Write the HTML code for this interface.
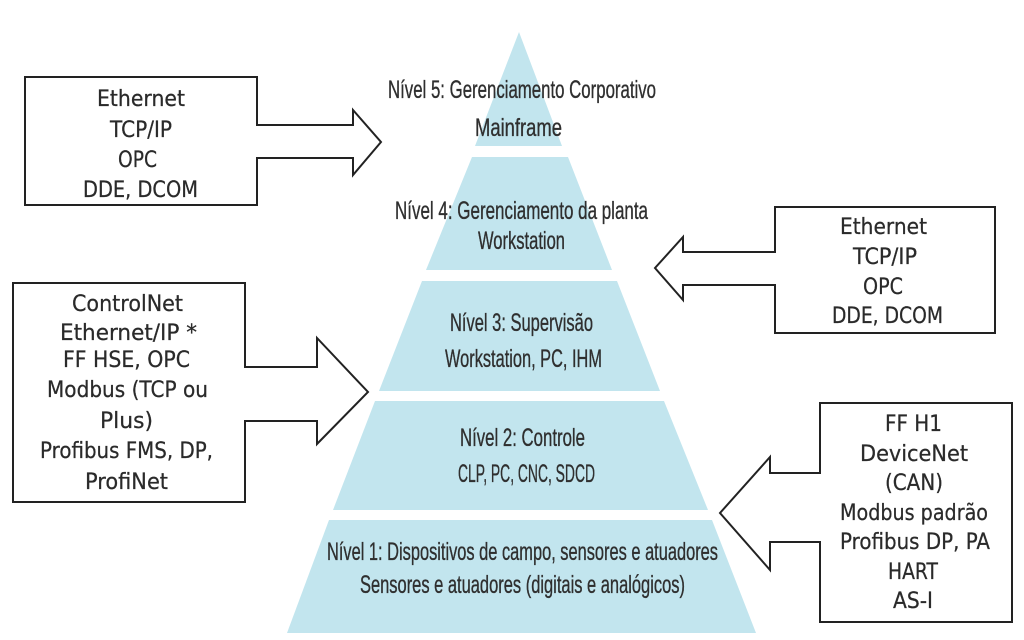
<!DOCTYPE html>
<html>
<head>
<meta charset="utf-8">
<style>
html,body{margin:0;padding:0;background:#fff;}
svg{display:block;}
.p{font-family:"Liberation Sans",sans-serif;font-size:25px;fill:#2f2f2f;stroke:#2f2f2f;stroke-width:0.35px;}
.b{font-family:"DejaVu Sans","Liberation Sans",sans-serif;font-size:22px;fill:#2a2a2a;stroke:#2a2a2a;stroke-width:0.25px;}
</style>
</head>
<body>
<svg width="1024" height="640" viewBox="0 0 1024 640" xmlns="http://www.w3.org/2000/svg">
<rect width="1024" height="640" fill="#fff"/>
<g fill="#c2e5ee">
  <polygon points="519,32 562,146 475,146"/>
  <polygon points="472,157 568,157 612,270 426,270"/>
  <polygon points="422,281 617,281 660,391 379,391"/>
  <polygon points="375,401 664,401 708,510 333,510"/>
  <polygon points="329,520 712,520 756,633 287,633"/>
</g>
<text class="p" x="388" y="98" textLength="268" lengthAdjust="spacingAndGlyphs">Nível 5: Gerenciamento Corporativo</text>
<text class="p" x="475" y="136" textLength="87" lengthAdjust="spacingAndGlyphs">Mainframe</text>
<text class="p" x="395" y="219" textLength="253" lengthAdjust="spacingAndGlyphs">Nível 4: Gerenciamento da planta</text>
<text class="p" x="478" y="249" textLength="87" lengthAdjust="spacingAndGlyphs">Workstation</text>
<text class="p" x="450" y="331" textLength="143" lengthAdjust="spacingAndGlyphs">Nível 3: Supervisão</text>
<text class="p" x="445" y="367" textLength="157" lengthAdjust="spacingAndGlyphs">Workstation, PC, IHM</text>
<text class="p" x="460" y="446" textLength="125" lengthAdjust="spacingAndGlyphs">Nível 2: Controle</text>
<text class="p" x="458" y="482" textLength="137" lengthAdjust="spacingAndGlyphs">CLP, PC, CNC, SDCD</text>
<text class="p" x="327" y="560" textLength="391" lengthAdjust="spacingAndGlyphs">Nível 1: Dispositivos de campo, sensores e atuadores</text>
<text class="p" x="360" y="593" textLength="325" lengthAdjust="spacingAndGlyphs">Sensores e atuadores (digitais e analógicos)</text>

<g fill="#fff" stroke="#222" stroke-width="2" stroke-linejoin="miter">
  <path d="M25,77 H257 V125 H353 V110 L381,142 L353,175 V158 H257 V205 H25 Z"/>
  <path d="M775,207 H995 V333 H775 V285 H683 V300 L655,268 L683,237 V252 H775 Z"/>
  <path d="M13,283 H245 V367 H317 V338 L368,392 L317,444 V421 H245 V502 H13 Z"/>
  <path d="M820,403 H1012 V622 H820 V542 H770 V570 L720,513 L770,457 V473 H820 Z"/>
</g>

<text class="b" x="97" y="106" textLength="88" lengthAdjust="spacingAndGlyphs">Ethernet</text>
<text class="b" x="110" y="137" textLength="62" lengthAdjust="spacingAndGlyphs">TCP/IP</text>
<text class="b" x="118" y="167" textLength="39" lengthAdjust="spacingAndGlyphs">OPC</text>
<text class="b" x="83" y="197" textLength="115" lengthAdjust="spacingAndGlyphs">DDE, DCOM</text>

<text class="b" x="840" y="234" textLength="87" lengthAdjust="spacingAndGlyphs">Ethernet</text>
<text class="b" x="853" y="264" textLength="64" lengthAdjust="spacingAndGlyphs">TCP/IP</text>
<text class="b" x="863" y="294" textLength="40" lengthAdjust="spacingAndGlyphs">OPC</text>
<text class="b" x="832" y="323" textLength="111" lengthAdjust="spacingAndGlyphs">DDE, DCOM</text>

<text class="b" x="72" y="311" textLength="111" lengthAdjust="spacingAndGlyphs">ControlNet</text>
<text class="b" x="60" y="340" textLength="137" lengthAdjust="spacingAndGlyphs">Ethernet/IP *</text>
<text class="b" x="63" y="367" textLength="127" lengthAdjust="spacingAndGlyphs">FF HSE, OPC</text>
<text class="b" x="47" y="397" textLength="161" lengthAdjust="spacingAndGlyphs">Modbus (TCP ou</text>
<text class="b" x="100" y="428" textLength="53" lengthAdjust="spacingAndGlyphs">Plus)</text>
<text class="b" x="40" y="458" textLength="173" lengthAdjust="spacingAndGlyphs">Profibus FMS, DP,</text>
<text class="b" x="85" y="489" textLength="83" lengthAdjust="spacingAndGlyphs">ProfiNet</text>

<text class="b" x="885" y="431" textLength="57" lengthAdjust="spacingAndGlyphs">FF H1</text>
<text class="b" x="860" y="461" textLength="108" lengthAdjust="spacingAndGlyphs">DeviceNet</text>
<text class="b" x="885" y="490" textLength="58" lengthAdjust="spacingAndGlyphs">(CAN)</text>
<text class="b" x="840" y="520" textLength="148" lengthAdjust="spacingAndGlyphs">Modbus padrão</text>
<text class="b" x="840" y="549" textLength="150" lengthAdjust="spacingAndGlyphs">Profibus DP, PA</text>
<text class="b" x="888" y="579" textLength="50" lengthAdjust="spacingAndGlyphs">HART</text>
<text class="b" x="893" y="608" textLength="40" lengthAdjust="spacingAndGlyphs">AS-I</text>
</svg>
</body>
</html>
